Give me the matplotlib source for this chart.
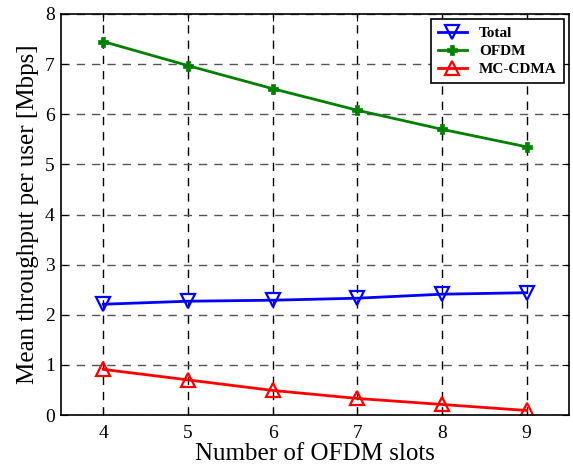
import matplotlib
matplotlib.use('Agg')
import matplotlib.pyplot as plt

plt.rcParams['font.family'] = ['Liberation Serif', 'DejaVu Serif']

# Data
slots = [4, 5, 6, 7, 8, 9]
total = [2.21, 2.27, 2.29, 2.33, 2.41, 2.44]
ofdm = [7.45, 6.97, 6.51, 6.08, 5.70, 5.35]
mc_cdma = [0.91, 0.70, 0.49, 0.33, 0.21, 0.09]

fig = plt.figure(figsize=(5.73, 4.70), dpi=100)
ax = fig.add_axes([61 / 573, 1 - 415 / 470, (569 - 61) / 573, (415 - 14) / 470])

ax.plot(slots, total, color='blue', lw=2, marker='v', ms=10, mfc='none', mew=1.6, label='Total')
ax.plot(slots, ofdm, color='green', lw=2, marker='P', ms=7, mew=0.5, label='OFDM')
ax.plot(slots, mc_cdma, color='red', lw=2, marker='^', ms=10, mfc='none', mew=1.6, label='MC-CDMA')

ax.set_xlim(3.5, 9.5)
ax.set_ylim(0, 8)
ax.set_xticks(slots)
ax.set_yticks(range(0, 9))
ax.xaxis.grid(True, color='black', ls=(0, (6, 5)), lw=1)
ax.yaxis.grid(True, color='#555555', ls=(0, (6, 5)), lw=1)
ax.tick_params(direction='in', labelsize=14, length=5, top=True, right=True)
ax.tick_params(axis='x', pad=7)
ax.tick_params(axis='y', pad=4.5)
for s in ax.spines.values():
    s.set_linewidth(1.2)

ax.set_xlabel('Number of OFDM slots', fontsize=18, labelpad=1)
ax.set_ylabel('Mean throughput per user [Mbps]', fontsize=18, labelpad=4)

leg = ax.legend(loc='upper right', prop={'weight': 'bold', 'size': 11}, fancybox=False,
                framealpha=1, edgecolor='black', borderaxespad=0.35, handlelength=1.9,
                labelspacing=0.3, borderpad=0.45)
leg.get_frame().set_linewidth(1.2)

fig.savefig('out.png', dpi=100)
